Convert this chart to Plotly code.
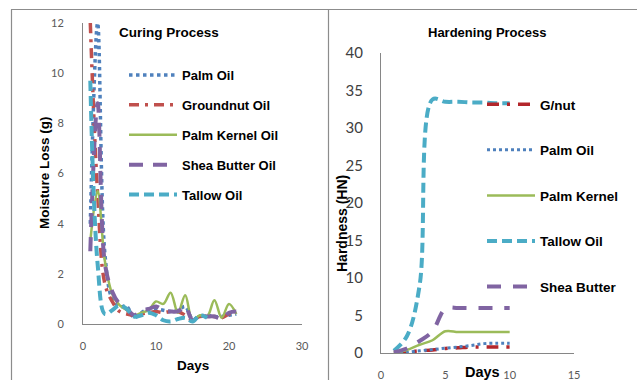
import plotly.graph_objects as go

W, H = 637, 380

# ---------------- data: Curing process (moisture loss, g) ----------------
cure_days = list(range(1, 22))
cure_palm_oil = [4.0, 12.0, 2.8, 1.0, 0.7, 0.7, 0.25, 0.45, 0.6, 0.6, 0.55, 0.5, 0.55, 0.7, 0.2, 0.3, 0.35, 0.3, 0.3, 0.35, 0.4]
cure_groundnut = [12.0, 5.2, 1.6, 0.9, 0.5, 0.4, 0.35, 0.4, 0.45, 0.5, 0.45, 0.5, 0.5, 0.35, 0.15, 0.3, 0.3, 0.3, 0.25, 0.4, 0.45]
cure_palm_kernel = [3.3, 5.3, 2.5, 1.2, 0.75, 0.55, 0.35, 0.45, 0.55, 0.9, 0.8, 1.25, 0.45, 1.15, 0.15, 0.35, 0.3, 0.95, 0.25, 0.8, 0.4]
cure_shea = [2.9, 8.8, 2.4, 1.3, 0.8, 0.6, 0.35, 0.55, 0.6, 0.7, 0.55, 0.5, 0.5, 0.7, 0.15, 0.3, 0.3, 0.3, 0.2, 0.45, 0.5]
tallow_days = list(range(1, 18))
cure_tallow = [9.7, 2.4, 0.4, 0.55, 0.75, 0.6, 0.3, 0.35, 0.45, 0.35, 0.15, 0.1, 0.2, 0.25, 0.1, 0.35, 0.25]

# ---------------- data: Hardening process (hardness, HN) ----------------
hard_days = list(range(1, 11))
hard_gnut = [0.0, 0.1, 0.3, 0.4, 0.6, 0.7, 0.8, 0.8, 0.8, 0.8]
hard_palm_oil = [0.0, 0.1, 0.3, 0.45, 0.65, 0.8, 1.0, 1.25, 1.3, 1.3]
hard_palm_kernel = [0.1, 0.4, 1.1, 1.7, 2.9, 2.8, 2.8, 2.8, 2.8, 2.8]
hard_tallow = [0.3, 2.2, 9.0, 33.8, 33.5, 33.5, 33.4, 33.4, 33.3, 33.3]
hard_shea = [0.1, 0.6, 1.6, 2.9, 5.9, 6.0, 6.0, 6.0, 6.0, 6.0]

cure_ticks = [0, 10, 20, 30]
cure_yticks = [0, 2, 4, 6, 8, 10, 12]
hard_ticks = [0, 5, 10, 15]
hard_yticks = [0, 5, 10, 15, 20, 25, 30, 35, 40]

BLUE, RED, GREEN, PURPLE, CYAN = "#4F81BD", "#C0504D", "#9BBB59", "#8064A2", "#4BACC6"
DRED = "#B3262B"

def px(x):
    return x / W

def py(y):
    return 1 - y / H

fig = go.Figure()

def add(x, y, name, color, dash, width, xa, ya, leg, grp):
    fig.add_trace(go.Scatter(
        x=x, y=y, name=name, mode="lines",
        line=dict(color=color, dash=dash, width=width, shape="spline", smoothing=1),
        xaxis=xa, yaxis=ya, legend=leg, legendgroup=grp,
        hoverinfo="skip"))

add(cure_days, cure_palm_oil, "Palm Oil", BLUE, "dot", 3.5, "x", "y", "legend", "a1")
add(cure_days, cure_groundnut, "Groundnut Oil", RED, "10px,6px,3px,6px", 3.5, "x", "y", "legend", "a2")
add(cure_days, cure_palm_kernel, "Palm Kernel Oil", GREEN, "solid", 2.5, "x", "y", "legend", "a3")
add(cure_days, cure_shea, "Shea Butter Oil", PURPLE, "14px,10px", 4, "x", "y", "legend", "a4")
add(tallow_days, cure_tallow, "Tallow Oil", CYAN, "10px,5px", 4, "x", "y", "legend", "a5")

add(hard_days, hard_gnut, "G/nut", DRED, "12px,8px,3px,8px", 3.5, "x2", "y2", "legend2", "b1")
add(hard_days, hard_palm_oil, "Palm Oil", BLUE, "dot", 3, "x2", "y2", "legend2", "b2")
add(hard_days, hard_palm_kernel, "Palm Kernel", GREEN, "solid", 2.5, "x2", "y2", "legend2", "b3")
add(hard_days, hard_tallow, "Tallow Oil", CYAN, "10px,5px", 4, "x2", "y2", "legend2", "b4")
add(hard_days, hard_shea, "Shea Butter", PURPLE, "14px,12px", 4, "x2", "y2", "legend2", "b5")

tickfont = dict(family="Lato, Liberation Sans, Arial", size=11, color="#595959")
axcol = "#868686"

fig.update_layout(
    width=W, height=H,
    margin=dict(l=0, r=0, t=0, b=0, autoexpand=False),
    paper_bgcolor="white", plot_bgcolor="white",
    showlegend=True,
    xaxis=dict(domain=[px(83), px(302)], range=[0, 30], tickvals=cure_ticks,
               showgrid=False, zeroline=False, showline=True, linecolor=axcol,
               ticks="", tickfont=tickfont, ticklabelstandoff=12, anchor="y"),
    yaxis=dict(domain=[py(324), py(23)], range=[0, 12], tickvals=cure_yticks,
               showgrid=False, zeroline=False, showline=True, linecolor=axcol,
               ticks="", tickfont=tickfont, ticklabelstandoff=16, anchor="x"),
    xaxis2=dict(domain=[px(381), px(574)], range=[0, 15], tickvals=hard_ticks,
                showgrid=False, zeroline=False, showline=True, linecolor=axcol,
                ticks="", tickfont=dict(family="Lato, Liberation Sans, Arial", size=11, color="#595959"),
                ticklabelstandoff=12, anchor="y2"),
    yaxis2=dict(domain=[py(353), py(53)], range=[0, 40], tickvals=hard_yticks,
                showgrid=False, zeroline=False, showline=True, linecolor=axcol,
                ticks="", tickfont=dict(family="Lato, Liberation Sans, Arial", size=15, color="#404040"),
                ticklabelstandoff=14, anchor="x2"),
    legend=dict(x=px(124), y=py(60), xanchor="left", yanchor="top",
                bgcolor="rgba(0,0,0,0)", borderwidth=0, tracegroupgap=10,
                font=dict(family="Liberation Sans, Arial", size=13, color="black", weight="bold"),
                itemwidth=48),
    legend2=dict(x=px(482), y=py(89), xanchor="left", yanchor="top",
                 bgcolor="rgba(0,0,0,0)", borderwidth=0, tracegroupgap=25,
                 font=dict(family="Liberation Sans, Arial", size=13.5, color="black", weight="bold"),
                 itemwidth=48),
)

bold = dict(family="Liberation Sans, Arial", color="black", weight="bold")
ann = [
    dict(text="Curing Process", x=px(169), y=py(32), font=dict(size=13.5, **bold)),
    dict(text="Hardening Process", x=px(487), y=py(32), font=dict(size=13, **bold)),
    dict(text="Moisture Loss (g)", x=px(44), y=py(173), textangle=-90, font=dict(size=13.5, **bold)),
    dict(text="Hardness (HN)", x=px(342), y=py(224), textangle=-90, font=dict(size=14, **bold)),
    dict(text="Days", x=px(193), y=py(365), font=dict(size=13.5, **bold)),
    dict(text="Days", x=px(482), y=py(372), font=dict(size=14.5, **bold)),
]
for a in ann:
    a.update(xref="paper", yref="paper", showarrow=False, xanchor="center", yanchor="middle")
fig.update_layout(annotations=ann)

border = dict(color="#8C8C8C", width=1.2)
fig.update_layout(shapes=[
    dict(type="line", xref="paper", yref="paper", x0=px(11), x1=1, y0=py(9.5), y1=py(9.5), line=border),
    dict(type="line", xref="paper", yref="paper", x0=px(11.5), x1=px(11.5), y0=py(9.5), y1=0, line=border),
    dict(type="line", xref="paper", yref="paper", x0=px(328.5), x1=px(328.5), y0=py(9.5), y1=0, line=border),
])

fig.write_html("out.html", config={"displayModeBar": False},
               post_script="document.body.style.margin='0px';document.body.style.padding='0px';document.body.style.overflow='hidden';")
